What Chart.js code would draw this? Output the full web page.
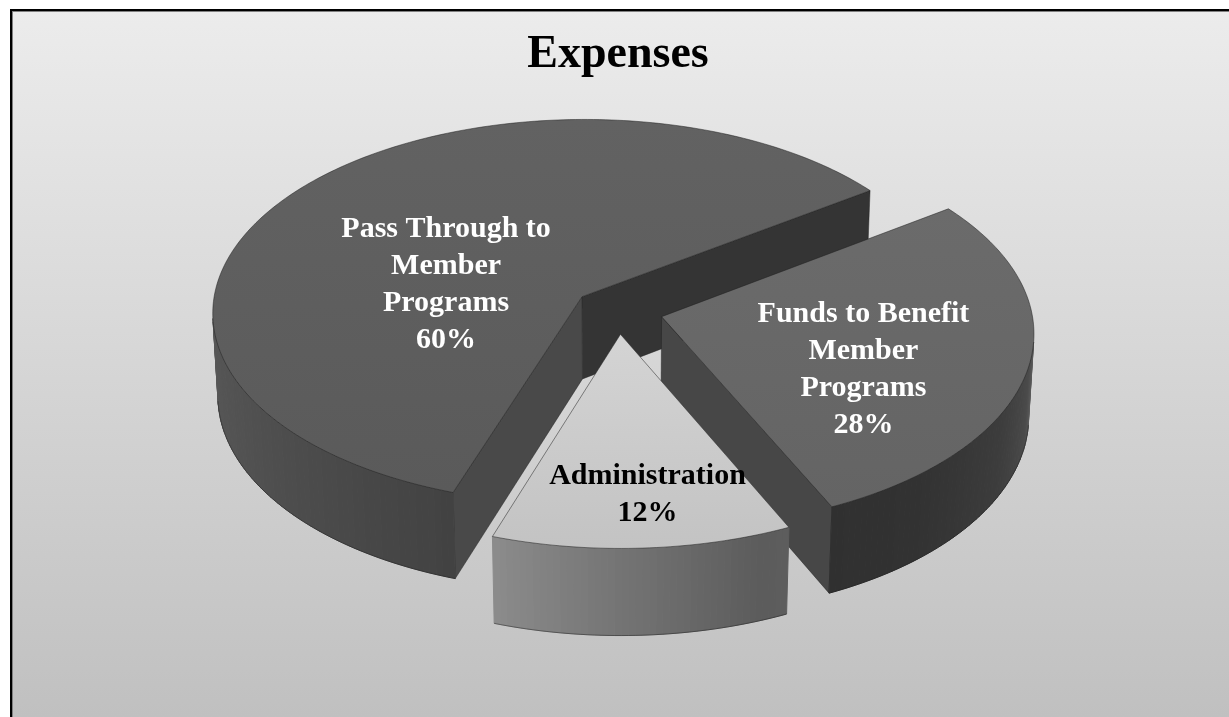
<!DOCTYPE html>
<html><head><meta charset="utf-8">
<script src="https://cdn.jsdelivr.net/npm/chart.js@4.4.1/dist/chart.umd.min.js"></script>
<style>html,body{margin:0;padding:0;background:#fff;overflow:hidden}canvas{display:block}</style>
</head><body>
<canvas id="c" width="1229" height="717"></canvas>
<script>
// ---- data ----
const categories = [['Pass Through to', 'Member', 'Programs'], ['Funds to Benefit', 'Member', 'Programs'], ['Administration']];
const values = [60, 28, 12];
const chartTitle = 'Expenses';

// ---- style ----
const FONT = '"Liberation Serif", "Times New Roman", serif';
const FRAME = {x: 10, y: 9};
const VIEW = {elev: 31.5, dist: 4000, depth: 98, explode: 45};
const sliceStyle = [
  {top: ['#626262', '#5a5a5a'], base: 94, label: '#ffffff', labelR: 0.38, labelShift: -25},
  {top: ['#6b6b6b', '#646464'], base: 104, label: '#ffffff', labelR: 0.59, labelShift: 11},
  {top: ['#d4d4d4', '#c3c3c3'], base: 200, label: '#000000', labelR: 0.76, labelShift: -2}
];
const outerShade = [[-40, 0.6], [0, 0.72], [8, 0.92], [15, 0.72], [30, 0.58], [50, 0.48], [70, 0.46], [90, 0.58], [112, 0.72], [150, 0.86], [180, 0.94], [230, 0.94]];
const radialShade = [[-90, 0.6], [0, 0.8], [20, 0.77], [56, 0.54], [110, 0.62], [159, 0.69], [270, 0.7]];

function interp(tbl, x) {
  if (x <= tbl[0][0]) return tbl[0][1];
  for (let i = 1; i < tbl.length; i++) {
    if (x <= tbl[i][0]) {
      const [x0, y0] = tbl[i - 1], [x1, y1] = tbl[i];
      return y0 + (y1 - y0) * (x - x0) / (x1 - x0);
    }
  }
  return tbl[tbl.length - 1][1];
}
function normDeg(r) { let d = r * 180 / Math.PI; d = ((d % 360) + 360) % 360; if (d > 270) d -= 360; return d; }
function shade(base, f) { const v = Math.max(0, Math.min(255, Math.round(base * f))); return `rgb(${v},${v},${v})`; }

function makeView(cx, cy) {
  const a = VIEW.elev * Math.PI / 180;
  return {cx, cy, s: Math.sin(a), c: Math.cos(a), dist: VIEW.dist};
}
function proj(x, y, z, P) {
  const depth = P.dist - (y * P.c + z * P.s);
  const sc = P.dist / depth;
  return [P.cx + x * sc, P.cy - (-y * P.s + z * P.c) * sc];
}
function poly(ctx, pts) {
  ctx.beginPath();
  ctx.moveTo(pts[0][0], pts[0][1]);
  for (let i = 1; i < pts.length; i++) ctx.lineTo(pts[i][0], pts[i][1]);
  ctx.closePath();
}

function drawSlice(ctx, sl, R, P) {
  const st = sliceStyle[sl.i];
  const H = VIEW.depth;
  const pt = (a, r, z) => proj(r * Math.cos(a) + sl.ex, r * Math.sin(a) + sl.ey, z, P);
  const camY = P.dist * P.c;
  const faces = [{a: sl.e, n: sl.e + Math.PI / 2}, {a: sl.s, n: sl.s - Math.PI / 2}];
  for (const f of faces) {
    const nx = Math.cos(f.n), ny = Math.sin(f.n);
    if (nx * (-sl.ex) + ny * (camY - sl.ey) <= 0) continue;
    const pts = [proj(sl.ex, sl.ey, 0, P), pt(f.a, R, 0), pt(f.a, R, -H), proj(sl.ex, sl.ey, -H, P)];
    const col = shade(st.base, interp(radialShade, normDeg(f.n)));
    poly(ctx, pts);
    ctx.fillStyle = col; ctx.fill();
    ctx.strokeStyle = 'rgba(30,30,30,0.45)'; ctx.lineWidth = 1; ctx.stroke();
  }
  const steps = Math.max(2, Math.ceil((sl.e - sl.s) / (Math.PI / 180)));
  const rim = [];
  for (let k = 0; k < steps; k++) {
    const a0 = sl.s + (sl.e - sl.s) * k / steps, a1 = sl.s + (sl.e - sl.s) * (k + 1) / steps, am = (a0 + a1) / 2;
    const px = R * Math.cos(am) + sl.ex, py = R * Math.sin(am) + sl.ey;
    const vis = Math.cos(am) * (-px) + Math.sin(am) * (camY - py) > 0;
    if (!vis) { rim.push(null); continue; }
    const col = shade(st.base, interp(outerShade, normDeg(am)));
    const q = [pt(a0, R, 0), pt(a1, R, 0), pt(a1, R, -H), pt(a0, R, -H)];
    poly(ctx, q);
    ctx.fillStyle = col; ctx.fill();
    ctx.strokeStyle = col; ctx.lineWidth = 1; ctx.stroke();
    rim.push([q[3], q[2]]);
  }
  ctx.strokeStyle = 'rgba(30,30,30,0.45)'; ctx.lineWidth = 1;
  ctx.beginPath();
  let open = false;
  for (const seg of rim) {
    if (!seg) { open = false; continue; }
    if (!open) { ctx.moveTo(seg[0][0], seg[0][1]); open = true; }
    ctx.lineTo(seg[1][0], seg[1][1]);
  }
  ctx.stroke();
  const topPts = [proj(sl.ex, sl.ey, 0, P)];
  for (let k = 0; k <= steps; k++) topPts.push(pt(sl.s + (sl.e - sl.s) * k / steps, R, 0));
  let y0 = Infinity, y1 = -Infinity;
  topPts.forEach(p => { y0 = Math.min(y0, p[1]); y1 = Math.max(y1, p[1]); });
  const g = ctx.createLinearGradient(0, y0, 0, y1);
  g.addColorStop(0, st.top[0]); g.addColorStop(1, st.top[1]);
  poly(ctx, topPts);
  ctx.fillStyle = g; ctx.fill();
  ctx.strokeStyle = 'rgba(30,30,30,0.5)'; ctx.lineWidth = 1; ctx.stroke();
}

function sliceInfo(chart) {
  const arcs = chart.getDatasetMeta(0).data;
  const P = makeView(arcs[0].x, arcs[0].y);
  const R = arcs[0].outerRadius;
  const slices = arcs.map((a, i) => {
    const m = (a.startAngle + a.endAngle) / 2;
    return {i, s: a.startAngle, e: a.endAngle, m, ex: Math.cos(m) * VIEW.explode, ey: Math.sin(m) * VIEW.explode};
  });
  return {P, R, slices};
}

const pie3d = {
  id: 'pie3d',
  beforeDraw(chart) {
    const ctx = chart.ctx, W = chart.width, Hh = chart.height;
    ctx.save();
    ctx.fillStyle = '#ffffff'; ctx.fillRect(0, 0, W, Hh);
    const g = ctx.createLinearGradient(0, FRAME.y, 0, Hh);
    g.addColorStop(0, '#ececec'); g.addColorStop(1, '#c0c0c0');
    ctx.fillStyle = g; ctx.fillRect(FRAME.x, FRAME.y, W - FRAME.x, Hh - FRAME.y);
    ctx.fillStyle = '#000';
    ctx.fillRect(FRAME.x, FRAME.y, W - FRAME.x, 2);
    ctx.fillRect(FRAME.x, FRAME.y, 2, Hh - FRAME.y);
    ctx.fillStyle = '#808080';
    ctx.fillRect(FRAME.x + 2, FRAME.y + 2, W, 1);
    ctx.fillRect(FRAME.x + 2, FRAME.y + 2, 1, Hh);
    ctx.restore();
  },
  beforeDatasetsDraw(chart) {
    const ctx = chart.ctx;
    const {P, R, slices} = sliceInfo(chart);
    const order = slices.slice().sort((a, b) => a.ey - b.ey);
    ctx.save();
    ctx.lineJoin = 'round';
    for (const sl of order) drawSlice(ctx, sl, R, P);
    ctx.restore();
    return false;
  },
  afterDraw(chart) {
    const ctx = chart.ctx;
    const {P, R, slices} = sliceInfo(chart);
    const total = values.reduce((a, b) => a + b, 0);
    const size = 30, lineH = 37;
    ctx.save();
    ctx.font = `bold ${size}px ${FONT}`;
    ctx.textAlign = 'center';
    ctx.textBaseline = 'alphabetic';
    for (const sl of slices) {
      const st = sliceStyle[sl.i];
      const a = sl.m + st.labelShift * Math.PI / 180;
      const r = st.labelR * R;
      const [lx, ly] = proj(r * Math.cos(a) + sl.ex, r * Math.sin(a) + sl.ey, 0, P);
      const lines = [].concat(chart.data.labels[sl.i], Math.round(values[sl.i] / total * 100) + '%');
      ctx.fillStyle = st.label;
      lines.forEach((t, k) => {
        const yc = ly + (k - (lines.length - 1) / 2) * lineH;
        ctx.fillText(t, lx, yc + 0.33 * size);
      });
    }
    ctx.restore();
  }
};

new Chart(document.getElementById('c'), {
  type: 'pie',
  data: {
    labels: categories,
    datasets: [{
      data: values,
      backgroundColor: sliceStyle.map(s => s.top[0]),
      borderWidth: 0,
      radius: 370
    }]
  },
  options: {
    responsive: false,
    animation: false,
    rotation: 198.5,
    layout: {padding: {left: 7, right: 0, top: 0, bottom: 179}},
    plugins: {
      legend: {display: false},
      tooltip: {enabled: false},
      title: {
        display: true,
        text: chartTitle,
        color: '#000000',
        font: {family: FONT, size: 46, weight: 'bold', lineHeight: 1.2},
        padding: {top: 28, bottom: 0}
      }
    }
  },
  plugins: [pie3d]
});
</script>
</body></html>
